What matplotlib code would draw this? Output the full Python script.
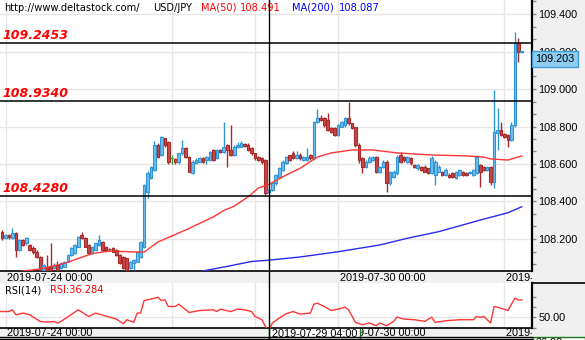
import numpy as np
import matplotlib
matplotlib.use("Agg")
import matplotlib.pyplot as plt
from matplotlib import transforms
from matplotlib.lines import Line2D

# USD/JPY H1 bars, bar 0 = 2019-07-24 00:00 (weekend hours skipped)
first_bar = -1
opens = [108.239, 108.204, 108.221, 108.204, 108.230, 108.141, 108.195, 108.177, 108.168, 108.150,
         108.132, 108.106, 108.035, 108.052, 108.052, 108.044, 108.061, 108.044, 108.052, 108.079,
         108.115, 108.124, 108.159, 108.221, 108.204, 108.168, 108.124, 108.141, 108.168, 108.186,
         108.159, 108.145, 108.150, 108.141, 108.115, 108.106, 108.097, 108.044, 108.070, 108.079,
         108.106, 108.159, 108.450, 108.524, 108.568, 108.701, 108.648, 108.737, 108.719, 108.630,
         108.625, 108.612, 108.657, 108.684, 108.639, 108.550, 108.604, 108.612, 108.630, 108.621,
         108.621, 108.675, 108.630, 108.675, 108.666, 108.701, 108.675, 108.648, 108.690, 108.692,
         108.705, 108.701, 108.684, 108.657, 108.639, 108.630, 108.621, 108.452, 108.461, 108.497,
         108.532, 108.568, 108.604, 108.648, 108.657, 108.630, 108.648, 108.621, 108.621, 108.648,
         108.630, 108.826, 108.844, 108.844, 108.835, 108.790, 108.790, 108.755, 108.799, 108.808,
         108.844, 108.817, 108.799, 108.701, 108.630, 108.586, 108.612, 108.621, 108.639, 108.559,
         108.586, 108.612, 108.497, 108.532, 108.550, 108.648, 108.639, 108.612, 108.630, 108.595,
         108.577, 108.586, 108.586, 108.577, 108.550, 108.541, 108.559, 108.559, 108.541, 108.541,
         108.550, 108.524, 108.541, 108.559, 108.550, 108.550, 108.541, 108.550, 108.595, 108.586,
         108.568, 108.586, 108.506, 108.764, 108.781, 108.760, 108.755, 108.728, 108.808, 109.245,
         109.197]
highs = [108.248, 108.228, 108.226, 108.257, 108.239, 108.200, 108.200, 108.210, 108.175, 108.160,
         108.140, 108.110, 108.065, 108.115, 108.177, 108.070, 108.080, 108.075, 108.085, 108.118,
         108.155, 108.172, 108.215, 108.239, 108.208, 108.172, 108.162, 108.182, 108.221, 108.190,
         108.162, 108.152, 108.155, 108.145, 108.120, 108.110, 108.100, 108.082, 108.092, 108.135,
         108.190, 108.495, 108.560, 108.590, 108.720, 108.710, 108.750, 108.740, 108.720, 108.648,
         108.630, 108.660, 108.728, 108.690, 108.645, 108.620, 108.630, 108.635, 108.635, 108.645,
         108.670, 108.680, 108.680, 108.680, 108.826, 108.705, 108.808, 108.700, 108.715, 108.720,
         108.710, 108.710, 108.690, 108.660, 108.645, 108.635, 108.625, 108.470, 108.500, 108.545,
         108.585, 108.620, 108.645, 108.650, 108.670, 108.670, 108.660, 108.645, 108.684, 108.655,
         108.830, 108.892, 108.861, 108.850, 108.870, 108.795, 108.795, 108.815, 108.830, 108.850,
         108.932, 108.820, 108.800, 108.710, 108.635, 108.620, 108.640, 108.645, 108.645, 108.590,
         108.620, 108.620, 108.565, 108.570, 108.650, 108.666, 108.645, 108.645, 108.635, 108.600,
         108.600, 108.590, 108.595, 108.580, 108.640, 108.620, 108.595, 108.565, 108.580, 108.550,
         108.555, 108.565, 108.575, 108.565, 108.555, 108.565, 108.575, 108.648, 108.600, 108.590,
         108.590, 108.590, 108.995, 108.897, 108.826, 108.765, 108.760, 108.826, 109.304, 109.272,
         109.205]
lows = [108.195, 108.198, 108.200, 108.200, 108.106, 108.135, 108.160, 108.170, 108.135, 108.120,
        108.100, 108.030, 108.030, 108.030, 108.030, 108.040, 108.030, 108.040, 108.048, 108.075,
        108.110, 108.120, 108.155, 108.200, 108.155, 108.120, 108.120, 108.138, 108.165, 108.138,
        108.135, 108.138, 108.130, 108.110, 108.065, 108.040, 108.030, 108.040, 108.035, 108.075,
        108.100, 108.150, 108.420, 108.520, 108.560, 108.630, 108.640, 108.690, 108.600, 108.600,
        108.600, 108.600, 108.650, 108.630, 108.555, 108.545, 108.600, 108.608, 108.605, 108.600,
        108.615, 108.615, 108.625, 108.660, 108.660, 108.586, 108.640, 108.640, 108.685, 108.688,
        108.690, 108.670, 108.650, 108.620, 108.615, 108.600, 108.435, 108.445, 108.455, 108.490,
        108.530, 108.565, 108.600, 108.615, 108.625, 108.625, 108.620, 108.615, 108.615, 108.620,
        108.620, 108.820, 108.830, 108.800, 108.775, 108.765, 108.750, 108.750, 108.795, 108.800,
        108.810, 108.785, 108.690, 108.604, 108.550, 108.580, 108.605, 108.615, 108.550, 108.550,
        108.580, 108.450, 108.490, 108.525, 108.540, 108.605, 108.610, 108.605, 108.595, 108.580,
        108.570, 108.560, 108.555, 108.545, 108.545, 108.488, 108.555, 108.535, 108.535, 108.525,
        108.525, 108.520, 108.535, 108.535, 108.535, 108.545, 108.535, 108.545, 108.479, 108.560,
        108.560, 108.490, 108.470, 108.675, 108.750, 108.740, 108.692, 108.720, 108.800, 109.144,
        109.190]
closes = [108.204, 108.221, 108.210, 108.230, 108.141, 108.195, 108.168, 108.204, 108.141, 108.132,
          108.106, 108.035, 108.061, 108.035, 108.035, 108.061, 108.035, 108.070, 108.079, 108.115,
          108.150, 108.168, 108.212, 108.204, 108.159, 108.124, 108.159, 108.177, 108.195, 108.141,
          108.141, 108.141, 108.132, 108.115, 108.070, 108.044, 108.035, 108.079, 108.088, 108.132,
          108.186, 108.488, 108.550, 108.586, 108.701, 108.639, 108.746, 108.701, 108.612, 108.630,
          108.610, 108.657, 108.684, 108.639, 108.559, 108.612, 108.621, 108.630, 108.612, 108.639,
          108.666, 108.621, 108.675, 108.666, 108.692, 108.675, 108.648, 108.692, 108.700, 108.710,
          108.697, 108.675, 108.657, 108.630, 108.621, 108.612, 108.444, 108.461, 108.497, 108.541,
          108.577, 108.612, 108.639, 108.621, 108.630, 108.648, 108.630, 108.639, 108.639, 108.630,
          108.826, 108.844, 108.835, 108.808, 108.781, 108.772, 108.755, 108.808, 108.826, 108.844,
          108.817, 108.790, 108.701, 108.621, 108.586, 108.612, 108.630, 108.639, 108.559, 108.586,
          108.612, 108.497, 108.559, 108.559, 108.639, 108.612, 108.621, 108.639, 108.604, 108.586,
          108.595, 108.568, 108.559, 108.550, 108.630, 108.612, 108.586, 108.541, 108.568, 108.532,
          108.532, 108.559, 108.568, 108.541, 108.541, 108.559, 108.568, 108.639, 108.559, 108.568,
          108.586, 108.506, 108.772, 108.781, 108.755, 108.746, 108.728, 108.808, 109.245, 109.197,
          109.203]

ma50_bars = [3, 5, 10, 17, 25, 30, 35, 40, 44, 52, 60, 63, 66, 70, 73, 76, 81, 85, 90, 94,
             100, 106, 113, 123, 133, 138, 140, 145, 149]
ma50_vals = [108.020, 108.029, 108.040, 108.070, 108.122, 108.136, 108.132, 108.130, 108.184, 108.248,
             108.318, 108.352, 108.375, 108.425, 108.472, 108.491, 108.541, 108.577, 108.637, 108.659,
             108.675, 108.675, 108.659, 108.648, 108.643, 108.637, 108.627, 108.621, 108.643]
ma200_bars = [54, 56, 64, 71, 76, 85, 96, 108, 116, 125, 137, 145, 149]
ma200_vals = [108.015, 108.026, 108.054, 108.080, 108.087, 108.104, 108.132, 108.168, 108.204,
              108.239, 108.301, 108.340, 108.372]

rsi_bars = [-2, 1, 2, 3, 5, 7, 10, 12, 14, 15, 16, 21, 24, 26, 30, 32, 34, 35, 37, 38, 39, 40,
            43, 44, 45, 46, 47, 49, 50, 53, 56, 60, 61, 62, 65, 67, 69, 71, 72, 74, 75, 76, 77,
            79, 81, 83, 85, 88, 89, 90, 92, 94, 96, 98, 99, 101, 103, 105, 107, 108, 110, 112,
            113, 115, 118, 121, 123, 124, 127, 131, 135, 136, 137, 138, 140, 141, 142, 145, 147,
            148, 149]
rsi_vals = [55.6, 55.6, 57.3, 52.4, 54.1, 52.4, 45.9, 45.3, 45.9, 44.4, 45.9, 57.3, 50.8, 54.1,
            50.2, 48.2, 43.7, 47.6, 45.0, 54.1, 54.1, 66.3, 68.6, 69.6, 66.3, 67.0, 60.5, 60.5,
            62.8, 54.7, 56.6, 57.3, 55.6, 58.0, 55.6, 58.0, 57.3, 55.6, 50.8, 47.6, 41.1, 36.284,
            44.4, 49.2, 53.4, 55.6, 53.1, 54.1, 62.8, 63.8, 60.5, 56.6, 58.0, 59.9, 57.3, 45.0,
            42.7, 44.4, 41.7, 44.4, 41.7, 45.9, 50.2, 48.2, 47.6, 46.0, 50.0, 45.0, 46.6, 47.6,
            47.6, 50.8, 49.8, 50.8, 44.4, 60.5, 59.9, 56.6, 68.6, 67.0, 67.0]

levels = [109.2453, 108.9340, 108.4280]
grid_bars = [0, 48, 72, 96, 144]
time_bars = [0, 96, 144]
time_labels = ['2019-07-24 00:00', '2019-07-30 00:00', '2019-08-01 00:00']
cross_bar = 76
cross_time = '2019-07-29 04:00'
cross_ma50 = 108.491
cross_ma200 = 108.087
cross_rsi = 36.284

W, H = 585, 340
PLOT_R = 532
PX0, PX_BAR = 5.5, 3.465          # pixel of bar 0, pixels per bar
XLIM = (-PX0 / PX_BAR, (PLOT_R - PX0) / PX_BAR)

BULL = '#2f95d6'
BULL_FILL = '#6fbde9'
BEAR = '#a82a2a'
BEAR_FILL = '#c84848'
DOJI = '#2a9a2a'
GRID = '#e6e6e6'
STRIP = '#f0f0f0'

lab_font = {'family': 'Liberation Sans', 'size': 7.8}
hdr_font = {'family': 'DejaVu Sans', 'size': 7.1}

fig = plt.figure(figsize=(W / 100, H / 100), dpi=100)


def rect(x0, y0, x1, y1):
    # pixel box measured from the top-left corner -> figure fractions
    return [x0 / W, 1 - y1 / H, (x1 - x0) / W, (y1 - y0) / H]


def bare(a, face):
    a.set_facecolor(face)
    a.set_xticks([])
    a.set_yticks([])
    for s in a.spines.values():
        s.set_visible(False)


# grey price-scale panel on the right
side = fig.add_axes(rect(PLOT_R, 0, W, H), zorder=0)
bare(side, STRIP)
side.set_xlim(PLOT_R, W)
side.set_ylim(H, 0)
side.plot([PLOT_R, W], [283, 283], color='black', lw=1.2)

ax = fig.add_axes(rect(0, 0, PLOT_R, 271), zorder=2)
t1 = fig.add_axes(rect(0, 271, PLOT_R, 283), zorder=1)
rsi = fig.add_axes(rect(0, 283, PLOT_R, 327.5), zorder=2)
t2 = fig.add_axes(rect(0, 327.5, PLOT_R, 337), zorder=1)
for a in (ax, t1, rsi, t2):
    a.set_xlim(*XLIM)
bare(t1, STRIP)
bare(t2, STRIP)

# ---- price panel ----
xs = np.arange(first_bar, first_bar + len(closes))
o = np.array(opens)
h = np.array(highs)
l = np.array(lows)
c = np.array(closes)
edge = np.where(c > o, BULL, np.where(c < o, BEAR, DOJI))
fill = np.where(c > o, BULL_FILL, np.where(c < o, BEAR_FILL, DOJI))
ax.vlines(xs, l, h, colors=edge, lw=1, zorder=3)
body = np.where(np.abs(c - o) < 0.004, 0.004, c - o)
ax.bar(xs, body, bottom=o, width=0.78, color=fill, edgecolor=edge, linewidth=0.8, zorder=4)

ax.plot(ma50_bars, ma50_vals, color='#ff3535', lw=1.0, zorder=5)
ax.plot(ma200_bars, ma200_vals, color='#2a2af0', lw=1.0, zorder=5)

ax.set_ylim(108.0293, 109.4747)
ax.yaxis.tick_right()
major = np.round(np.arange(108.2, 109.41, 0.2), 3)
ax.set_yticks(major)
ax.set_yticklabels([f'{v:.3f}' for v in major], fontdict=lab_font)
ax.set_yticks(np.round(108.0 + np.arange(1, 23) / 15, 4), minor=True)
ax.tick_params(axis='y', which='both', direction='out', length=3, width=1,
               color='#8a8a8a', pad=1.5, right=True, left=False)
ax.set_xticks([])
ax.grid(axis='y', color=GRID, lw=1, zorder=0)
for b in grid_bars:
    ax.axvline(b, color=GRID, lw=1, zorder=0)
    rsi.axvline(b, color=GRID, lw=1, zorder=0)
for s in ('top', 'left'):
    ax.spines[s].set_visible(False)
ax.spines['right'].set_linewidth(1.6)
ax.spines['bottom'].set_linewidth(1.2)

for lv in levels:
    ax.axhline(lv, color='black', lw=1.1, zorder=6)
    ax.annotate(f'{lv:.4f}', xy=(0, lv), xycoords=('axes fraction', 'data'),
                xytext=(2.5, 4.5), textcoords='offset pixels', ha='left', va='baseline',
                color='#ff0000', fontsize=9, fontweight='bold', fontstyle='oblique',
                family='DejaVu Sans', zorder=7)

# last price tag
tag_tr = transforms.offset_copy(transforms.blended_transform_factory(ax.transAxes, ax.transData),
                                fig=fig, x=3.5, y=-3.2, units='dots')
ax.text(1.0, closes[-1], f'{closes[-1]:.3f}', transform=tag_tr, ha='left', va='top',
        fontdict=lab_font, clip_on=False, zorder=10,
        bbox=dict(boxstyle='square,pad=0.28', fc='#8fcdf0', ec='#3a9bd6', lw=1))

# header line
hdr = [(4, 'http://www.deltastock.com/', 'black'), (153, 'USD/JPY', 'black'),
       (201, 'MA(50)', '#ff0000'), (240, f'{cross_ma50:.3f}', '#ff0000'),
       (292, 'MA(200)', '#0000ff'), (339, f'{cross_ma200:.3f}', '#0000ff')]
for px, s, col in hdr:
    fig.text(px / W, 1 - 8 / H, s, color=col, va='center', ha='left', fontdict=hdr_font)

# ---- RSI panel ----
rsi.plot(rsi_bars, rsi_vals, color='#ff3535', lw=1.0, zorder=3)
rsi.set_ylim(40.3, 83.5)
rsi.yaxis.tick_right()
rsi.set_yticks([40, 50, 60, 70])
rsi.set_yticklabels(['', '50.00', '', ''], fontdict=lab_font)
rsi.tick_params(axis='y', direction='out', length=3, width=1, color='#8a8a8a',
                pad=1.5, right=True, left=False)
rsi.set_xticks([])
rsi.axhline(50, color=GRID, lw=1, zorder=0)
for s in ('top', 'left'):
    rsi.spines[s].set_visible(False)
rsi.spines['right'].set_linewidth(1.6)
rsi.spines['bottom'].set_linewidth(1.2)
rsi.text(5 / PLOT_R, 0.84, 'RSI(14)', transform=rsi.transAxes, va='center', ha='left',
         fontdict=hdr_font)
rsi.text(50 / PLOT_R, 0.84, f'RSI:{cross_rsi:.3f}', transform=rsi.transAxes, va='center',
         ha='left', color='#ff0000', fontdict=hdr_font)

# ---- time strips ----
for strip in (t1, t2):
    tr = transforms.offset_copy(transforms.blended_transform_factory(strip.transData, strip.transAxes),
                                fig=fig, x=1.5, y=0, units='dots')
    for b, s in zip(time_bars, time_labels):
        strip.text(b, 0.45, s, transform=tr, ha='left', va='center', fontdict=lab_font,
                   clip_on=True)

cross_tr = transforms.offset_copy(transforms.blended_transform_factory(t2.transData, t2.transAxes),
                                  fig=fig, x=3, y=0, units='dots')
t2.text(cross_bar, 0.35, cross_time, transform=cross_tr, ha='left', va='center',
        fontdict=lab_font, zorder=5, clip_on=False,
        bbox=dict(boxstyle='square,pad=0.25', fc='white', ec='#1a7a1a', lw=1))

# crosshair through every panel
vline_tr = transforms.blended_transform_factory(ax.transData, fig.transFigure)
fig.add_artist(Line2D([cross_bar, cross_bar], [0, 1], transform=vline_tr, color='black',
                      lw=1, zorder=20))

# bottom border lines
for yy in (337, 339):
    fig.add_artist(Line2D([0, PLOT_R / W], [1 - yy / H] * 2, color='black', lw=1, zorder=3))

# RSI value tag under the scale
side.add_patch(plt.Rectangle((PLOT_R + 1, 336.5), 52, 10, fc='white', ec='#1a7a1a', lw=1))
side.text(PLOT_R + 4, 337.5, f'{cross_rsi:.2f}', ha='left', va='top', fontdict=lab_font)

fig.savefig('out.png', dpi=100)
